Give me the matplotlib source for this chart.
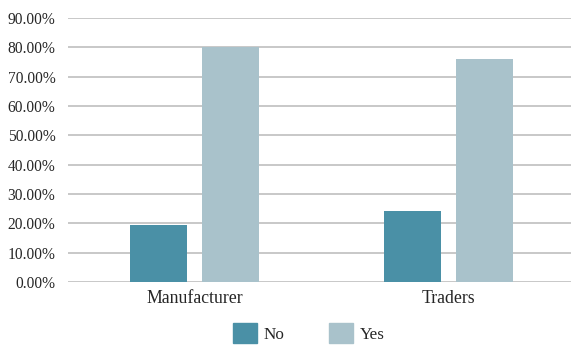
import matplotlib.pyplot as plt
import numpy as np
from matplotlib.ticker import FuncFormatter
from matplotlib.patches import Patch

plt.rcParams['font.family'] = ['Liberation Serif', 'DejaVu Serif']

# data
categories = ["Manufacturer", "Traders"]
no_vals = [19.6, 24.2]
yes_vals = [80.2, 76.0]
series_names = ["No", "Yes"]
colors = ["#4a90a6", "#a9c2cb"]

fig = plt.figure(figsize=(5.71, 3.47), dpi=100)
ax = fig.add_axes([68 / 571, 1 - 282 / 347, 1 - 68 / 571, (282 - 18) / 347])

x = np.arange(len(categories))
w = 0.225
off = 0.142
ax.bar(x - off, no_vals, width=w, color=colors[0], zorder=3)
ax.bar(x + off, yes_vals, width=w, color=colors[1], zorder=3)

ax.set_xlim(-0.499, 1.485)
ax.set_ylim(0, 90)
ax.set_yticks(np.arange(0, 91, 10))
ax.yaxis.set_major_formatter(FuncFormatter(lambda v, p: "%.2f%%" % v))
ax.grid(axis="y", color="#c4c4c4", linewidth=1.3, zorder=0)
for s in ax.spines.values():
    s.set_visible(False)
ax.tick_params(axis="both", length=0, colors="#262626")
ax.tick_params(axis="y", pad=9, labelsize=11.2)
ax.tick_params(axis="x", pad=6, labelsize=12.8)
ax.set_xticks(x)
ax.set_xticklabels(categories)

handles = [Patch(color=c, label=n) for c, n in zip(colors, series_names)]
fig.legend(handles=handles, loc="center", bbox_to_anchor=(308.5 / 571, 1 - 333 / 347),
           ncol=2, frameon=False, fontsize=12.3, handlelength=1.45,
           handleheight=1.45, handletextpad=0.35, columnspacing=2.6,
           labelcolor="#262626")

fig.savefig("out.png", dpi=100)
